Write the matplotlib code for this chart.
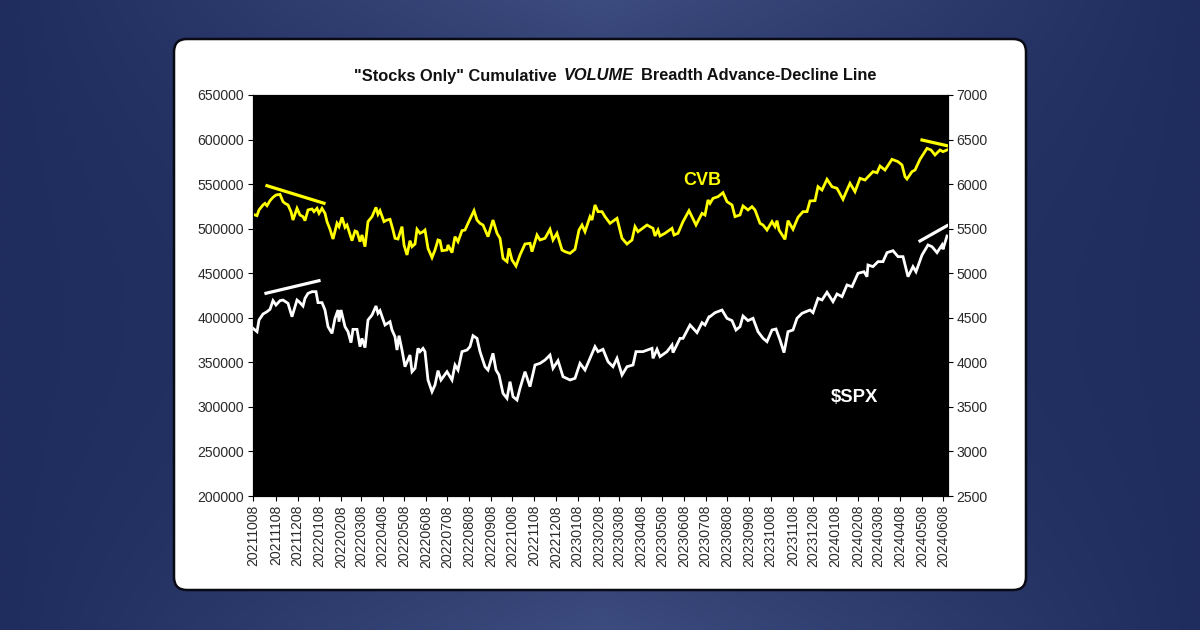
import numpy as np
import matplotlib
matplotlib.use("Agg")
import matplotlib.pyplot as plt
from matplotlib.patches import FancyBboxPatch

plt.rcParams['font.family'] = ['Liberation Sans', 'DejaVu Sans']

tick_labels = ["20211008","20211108","20211208","20220108","20220208","20220308","20220408","20220508",
 "20220608","20220708","20220808","20220908","20221008","20221108","20221208","20230108","20230208",
 "20230308","20230408","20230508","20230608","20230708","20230808","20230908","20231008","20231108",
 "20231208","20240108","20240208","20240308","20240408","20240508","20240608"]
tick_sessions = [0,23,44.7,66,88,108,129.7,151,173,194,216.3,238.3,259,281.3,303,324.7,346.3,366.3,388,409.3,431.3,452.7,474.3,496.3,517.7,540.3,560.3,582.7,605.3,625.3,647.3,669.3,690.3]

cvb_session = [0,4,6,10,12,14,17,20,23,27,30,32,35,38,40,44,47,50,52,55,59,61,64,66,69,72,74,77,80,84,86,89,92,94,99,102,104,107,109,112,115,119,123,125,127,131,134,137,140,142,145,149,151,154,157,159,162,164,167,170,172,175,179,182,185,187,189,194,195,199,202,205,209,212,215,219,221,224,227,
 230,235,240,244,247,250,254,256,259,263,267,272,277,279,284,287,292,297,300,304,309,312,317,322,326,329,332,337,339,342,345,349,352,357,364,369,374,379,382,385,394,400,402,405,407,412,419,421,425,430,436,443,449,452,455,
 457,460,465,470,474,479,482,487,490,495,499,502,507,510,514,519,522,524,526,532,535,540,545,550,554,557,562,565,569,574,579,584,590,594,597,602,607,612,620,624,627,632,639,645,649,652,654,659,662,667,674,678,682,687,690,694]
cvb_values = [516100,514600,521000,526600,528400,525800,531400,535200,537800,538500,530300,528400,526600,519100,509700,522800,515300,513500,509000,521000,522100,519100,522800,517200,522800,517200,507900,499300,488400,506000,502300,512700,501500,504100,486500,497400,496600,485400,492900,479800,507900,513500,523900,516100,520200,507900,509700,510500,498500,489200,488400,502300,481700,470500,486500,479800,482800,499300,494800,496600,498500,477900,467500,476100,487300,486500,475300,476100,481700,473100,491000,485400,497800,498500,506000,515300,520200,509700,506000,
 504100,491000,509700,494800,489200,466700,463000,477900,464900,458100,470500,482800,483600,474200,492900,487300,489200,499300,487300,494800,476100,474200,472300,476800,498500,504100,496600,513500,509700,526600,519100,519100,513500,506000,511600,489200,482800,487300,502300,496600,504100,500400,491800,498500,491800,494800,500400,492900,494800,507900,520200,504100,517200,515300,532200,
 528400,534000,535900,540400,530300,526600,513500,515400,525500,521000,524700,521000,506000,504100,498500,507900,502300,509000,498500,488000,509000,499300,512700,519100,519100,531100,531400,547100,543400,555400,547100,545300,532900,543400,550900,541500,556500,554600,564000,562800,570300,565800,577800,575200,571500,558400,555700,564000,565800,577800,590100,588300,582700,588300,586400,588300]

spx_session = [0,4,6,10,14,17,20,23,27,30,35,39,44,46,50,52,55,59,63,65,69,72,75,79,82,85,86,88,92,95,98,100,104,107,109,112,115,119,123,125,127,132,137,139,142,144,146,149,152,157,159,162,165,167,170,172,175,179,182,185,188,194,199,202,205,209,214,217,220,224,227,
 232,235,240,243,246,250,254,257,260,264,267,272,277,282,287,292,297,300,305,310,317,322,327,332,337,342,345,350,355,360,364,369,374,380,383,390,399,400,404,407,414,419,420,427,430,437,444,449,452,456,
 457,462,469,474,479,483,487,490,495,500,505,510,514,519,523,527,531,535,540,544,549,557,560,565,569,574,580,584,589,594,599,605,611,614,615,620,625,630,634,640,645,650,655,660,663,669,675,679,684,689,690,694]
spx_values = [4382,4344,4475,4542,4568,4595,4692,4643,4692,4699,4662,4512,4699,4681,4632,4718,4774,4793,4793,4670,4670,4587,4400,4325,4494,4587,4456,4587,4400,4344,4221,4370,4370,4176,4269,4165,4475,4531,4632,4550,4580,4419,4456,4363,4288,4138,4299,4138,3951,4082,3895,3933,4157,4120,4157,4120,3802,3671,3746,3907,3802,3895,3802,3970,3914,4120,4138,4176,4299,4269,4120,
 3951,3914,4101,3914,3858,3652,3596,3783,3615,3577,3708,3895,3727,3970,3989,4026,4082,3933,4019,3839,3802,3821,3989,3914,4045,4176,4120,4146,4008,3951,4045,3858,3951,3970,4120,4120,4157,4045,4146,4064,4120,4194,4109,4269,4269,4419,4333,4445,4419,4512,
 4513,4557,4587,4494,4468,4363,4400,4520,4468,4494,4344,4270,4232,4363,4374,4251,4109,4344,4363,4494,4550,4587,4557,4718,4700,4786,4681,4767,4737,4868,4849,4999,5017,4961,5092,5074,5130,5130,5231,5253,5186,5186,4961,5074,5017,5204,5317,5298,5231,5317,5268,5418]

cvb_trend_1 = ([14, 71], [548200, 528500])
cvb_trend_2 = ([669, 694], [599500, 593100])
spx_trend_1 = ([13, 66], [4775, 4916])
spx_trend_2 = ([667, 694], [5362, 5533])

W, H = 1200, 630
fig = plt.figure(figsize=(12, 6.3), dpi=100)

# page backdrop: navy, paler towards the top and bottom centre
bg = fig.add_axes([0, 0, 1, 1], zorder=0)
xx, yy = np.meshgrid(np.linspace(-1, 1, 300), np.linspace(-1, 1, 158))
t = np.clip((1 - np.abs(xx)) * (0.3 + 0.7 * yy**2), 0, 1)[..., None]
dark = np.array([0x1f, 0x2c, 0x5e]) / 255
pale = np.array([0x3d, 0x4c, 0x7e]) / 255
bg.imshow(dark + (pale - dark) * t, extent=(0, W, H, 0), aspect='auto', interpolation='bilinear')
bg.set_xlim(0, W); bg.set_ylim(H, 0); bg.axis('off')
bg.add_patch(FancyBboxPatch((186, 51), 828, 527, boxstyle="round,pad=12,rounding_size=13",
                            fc='white', ec='#0a0a14', lw=1.8))

ax = fig.add_axes([253/W, 1-496/H, 694.5/W, 401/H], zorder=2)
ax.set_facecolor('black')
ax.set_xlim(0, 694.5)
ax.set_ylim(200000, 650000)
ax.set_yticks(np.arange(200000, 650001, 50000))
ax.set_xticks(tick_sessions)
ax.set_xticklabels(tick_labels, rotation=90)
ax.tick_params(axis='both', labelsize=10.1, labelcolor='#2a2a2a', color='black', length=3.5, width=0.8, pad=3)
ax.plot(cvb_session, cvb_values, color='#ffff00', lw=2.0, zorder=3, solid_joinstyle='miter')
ax.plot(*cvb_trend_1, color='#ffff00', lw=2.3, zorder=3)
ax.plot(*cvb_trend_2, color='#ffff00', lw=2.3, zorder=3)
ax.text(449, 553500, 'CVB', color='#ffff00', fontsize=13, fontweight='bold', ha='center', va='center')

ax2 = ax.twinx()
ax2.set_zorder(3)
ax2.set_ylim(2500, 7000)
ax2.set_yticks(np.arange(2500, 7001, 500))
ax2.tick_params(axis='y', labelsize=10.1, labelcolor='#2a2a2a', color='black', length=3.5, width=0.8, pad=3)
ax2.plot(spx_session, spx_values, color='white', lw=2.0, zorder=3, solid_joinstyle='miter')
ax2.plot(*spx_trend_1, color='white', lw=2.3, zorder=3)
ax2.plot(*spx_trend_2, color='white', lw=2.3, zorder=3)
ax2.text(601, 3605, '$SPX', color='white', fontsize=13.3, fontweight='bold', ha='center', va='center', parse_math=False)
for a in (ax, ax2):
    for s in a.spines.values():
        s.set_color('black'); s.set_linewidth(0.8)

# title: one line with the word VOLUME set in bold italic
ty = 1 - 76/H
kw = dict(fontsize=11.8, fontweight='bold', color='#111111', va='center', zorder=5)
fig.text(354/W, ty, '"Stocks Only" Cumulative', ha='left', **kw)
fig.text(564/W, ty, 'VOLUME', ha='left', fontstyle='italic', **kw)
fig.text(876/W, ty, 'Breadth Advance-Decline Line', ha='right', **kw)

fig.savefig('out.png', dpi=100)
